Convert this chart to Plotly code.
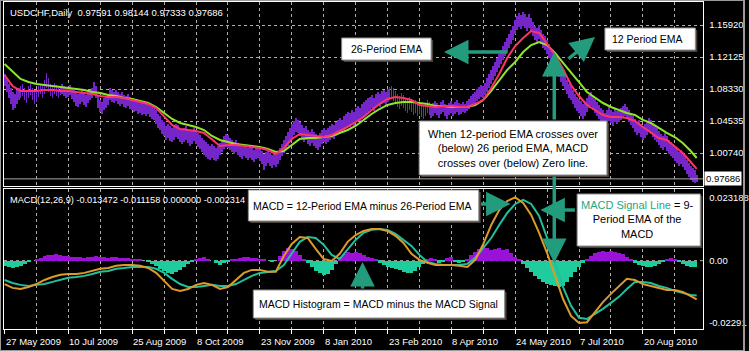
import plotly.graph_objects as go

W, H = 749, 351

# ---------------- data ----------------
bar_high = [
    1.1012,1.0965,1.0894,1.0846,1.0799,1.0775,1.0823,1.0846,
    1.0870,1.0894,1.0846,1.0823,1.0870,1.0894,1.0846,1.0799,
    1.0823,1.0870,1.0894,1.0870,1.0941,1.1024,1.0965,1.0894,
    1.0870,1.0906,1.0882,1.0846,1.0870,1.0894,1.0870,1.0846,
    1.0858,1.0882,1.0846,1.0823,1.0799,1.0775,1.0799,1.0823,
    1.0787,1.0763,1.0799,1.0823,1.0846,1.0917,1.0870,1.0751,
    1.0704,1.0680,1.0728,1.0751,1.0775,1.0846,1.0823,1.0799,
    1.0823,1.0799,1.0775,1.0799,1.0763,1.0751,1.0775,1.0740,
    1.0716,1.0692,1.0704,1.0680,1.0692,1.0668,1.0680,1.0657,
    1.0668,1.0645,1.0621,1.0609,1.0585,1.0538,1.0514,1.0467,
    1.0443,1.0396,1.0419,1.0396,1.0372,1.0396,1.0419,1.0408,
    1.0372,1.0348,1.0372,1.0396,1.0360,1.0336,1.0348,1.0372,
    1.0348,1.0313,1.0289,1.0253,1.0230,1.0206,1.0182,1.0158,
    1.0182,1.0158,1.0135,1.0158,1.0194,1.0230,1.0277,1.0301,
    1.0289,1.0253,1.0230,1.0206,1.0230,1.0194,1.0170,1.0147,
    1.0182,1.0158,1.0135,1.0158,1.0135,1.0111,1.0135,1.0158,
    1.0123,1.0099,1.0064,1.0087,1.0111,1.0075,1.0052,1.0075,
    1.0052,1.0087,1.0135,1.0182,1.0230,1.0277,1.0325,1.0372,
    1.0419,1.0455,1.0491,1.0467,1.0443,1.0408,1.0372,1.0396,
    1.0348,1.0325,1.0360,1.0325,1.0301,1.0277,1.0313,1.0348,
    1.0372,1.0348,1.0372,1.0396,1.0419,1.0408,1.0443,1.0467,
    1.0491,1.0467,1.0514,1.0538,1.0562,1.0550,1.0585,1.0562,
    1.0609,1.0633,1.0609,1.0657,1.0680,1.0704,1.0728,1.0740,
    1.0763,1.0728,1.0775,1.0799,1.0775,1.0811,1.0823,1.0799,
    1.0834,1.0858,1.0870,1.0846,1.0811,1.0775,1.0751,1.0787,
    1.0763,1.0728,1.0704,1.0740,1.0716,1.0680,1.0704,1.0668,
    1.0692,1.0657,1.0633,1.0668,1.0704,1.0680,1.0645,1.0668,
    1.0692,1.0668,1.0645,1.0680,1.0704,1.0657,1.0633,1.0668,
    1.0692,1.0657,1.0680,1.0704,1.0668,1.0657,1.0680,1.0657,
    1.0692,1.0716,1.0751,1.0775,1.0799,1.0834,1.0858,1.0882,
    1.0870,1.0906,1.0965,1.1012,1.1060,1.1107,1.1155,1.1202,
    1.1250,1.1297,1.1344,1.1392,1.1439,1.1487,1.1534,1.1582,
    1.1653,1.1700,1.1736,1.1712,1.1748,1.1724,1.1688,1.1724,
    1.1677,1.1629,1.1582,1.1558,1.1594,1.1534,1.1487,1.1463,
    1.1416,1.1368,1.1321,1.1273,1.1226,1.1178,1.1143,1.1084,
    1.1036,1.0989,1.0941,1.0894,1.0870,1.0823,1.0775,1.0740,
    1.0716,1.0692,1.0657,1.0680,1.0728,1.0763,1.0799,1.0751,
    1.0716,1.0680,1.0645,1.0609,1.0585,1.0550,1.0585,1.0621,
    1.0585,1.0562,1.0597,1.0574,1.0585,1.0609,1.0633,1.0657,
    1.0621,1.0585,1.0550,1.0514,1.0479,1.0443,1.0467,1.0419,
    1.0396,1.0419,1.0455,1.0491,1.0467,1.0431,1.0396,1.0372,
    1.0336,1.0301,1.0277,1.0313,1.0277,1.0230,1.0206,1.0182,
    1.0158,1.0123,1.0087,1.0111,1.0075,1.0040,0.9992,0.9957,
    0.9921,0.9898,0.9874,0.98144,
]
bar_low = [
    1.0870,1.0799,1.0728,1.0657,1.0585,1.0609,1.0657,1.0704,
    1.0728,1.0751,1.0704,1.0668,1.0728,1.0763,1.0704,1.0657,
    1.0680,1.0740,1.0775,1.0728,1.0775,1.0846,1.0799,1.0751,
    1.0728,1.0775,1.0751,1.0728,1.0763,1.0775,1.0751,1.0728,
    1.0740,1.0763,1.0716,1.0680,1.0633,1.0621,1.0657,1.0680,
    1.0645,1.0621,1.0668,1.0704,1.0728,1.0775,1.0728,1.0609,
    1.0562,1.0538,1.0585,1.0609,1.0645,1.0704,1.0680,1.0668,
    1.0692,1.0657,1.0633,1.0657,1.0621,1.0609,1.0633,1.0597,
    1.0585,1.0562,1.0574,1.0538,1.0550,1.0526,1.0538,1.0514,
    1.0538,1.0502,1.0479,1.0467,1.0419,1.0372,1.0348,1.0301,
    1.0277,1.0230,1.0253,1.0218,1.0206,1.0230,1.0265,1.0241,
    1.0206,1.0182,1.0206,1.0230,1.0194,1.0158,1.0182,1.0218,
    1.0182,1.0147,1.0123,1.0087,1.0052,1.0028,1.0004,0.9992,
    1.0016,0.9992,0.9981,1.0004,1.0052,1.0087,1.0123,1.0147,
    1.0135,1.0111,1.0087,1.0064,1.0087,1.0052,1.0028,1.0004,
    1.0040,1.0016,0.9992,1.0016,0.9992,0.9969,1.0004,1.0016,
    0.9981,0.9945,0.9874,0.9921,0.9957,0.9921,0.9898,0.9933,
    0.9909,0.9945,0.9992,1.0040,1.0075,1.0123,1.0158,1.0206,
    1.0253,1.0289,1.0325,1.0313,1.0277,1.0241,1.0206,1.0230,
    1.0182,1.0158,1.0194,1.0158,1.0135,1.0111,1.0147,1.0182,
    1.0206,1.0182,1.0206,1.0230,1.0253,1.0241,1.0277,1.0301,
    1.0325,1.0313,1.0348,1.0372,1.0396,1.0384,1.0419,1.0396,
    1.0443,1.0467,1.0455,1.0491,1.0514,1.0538,1.0562,1.0585,
    1.0609,1.0574,1.0621,1.0645,1.0621,1.0657,1.0668,1.0633,
    1.0680,1.0704,1.0716,1.0692,1.0657,1.0621,1.0597,1.0633,
    1.0609,1.0574,1.0550,1.0585,1.0562,1.0526,1.0550,1.0514,
    1.0538,1.0502,1.0479,1.0514,1.0550,1.0526,1.0491,1.0514,
    1.0550,1.0526,1.0491,1.0538,1.0562,1.0514,1.0479,1.0526,
    1.0550,1.0514,1.0538,1.0562,1.0526,1.0538,1.0562,1.0550,
    1.0574,1.0597,1.0621,1.0645,1.0657,1.0692,1.0716,1.0740,
    1.0728,1.0763,1.0799,1.0846,1.0894,1.0941,1.0989,1.1036,
    1.1084,1.1131,1.1178,1.1226,1.1273,1.1321,1.1368,1.1416,
    1.1487,1.1534,1.1570,1.1546,1.1582,1.1558,1.1522,1.1558,
    1.1510,1.1463,1.1416,1.1392,1.1427,1.1368,1.1321,1.1297,
    1.1250,1.1202,1.1155,1.1107,1.1060,1.1012,1.0977,1.0917,
    1.0870,1.0823,1.0775,1.0728,1.0704,1.0657,1.0609,1.0574,
    1.0550,1.0514,1.0479,1.0514,1.0562,1.0609,1.0633,1.0585,
    1.0550,1.0514,1.0479,1.0443,1.0419,1.0384,1.0419,1.0455,
    1.0431,1.0396,1.0443,1.0419,1.0443,1.0467,1.0491,1.0514,
    1.0479,1.0443,1.0408,1.0372,1.0325,1.0289,1.0313,1.0265,
    1.0230,1.0253,1.0289,1.0325,1.0301,1.0265,1.0230,1.0206,
    1.0170,1.0135,1.0111,1.0147,1.0099,1.0064,1.0040,1.0016,
    0.9981,0.9957,0.9921,0.9945,0.9909,0.9874,0.9826,0.9791,
    0.9755,0.9732,0.9720,0.97333,
]

# sample bars for the indicator lines
line_bars = list(range(0, 345, 4)) + [347]
ema_12 = [
    1.1000,1.0870,1.0811,1.0811,1.0811,1.0823,1.0823,1.0811,
    1.0811,1.0799,1.0787,1.0775,1.0751,1.0740,1.0740,1.0728,
    1.0704,1.0680,1.0657,1.0609,1.0514,1.0408,1.0360,1.0348,
    1.0336,1.0313,1.0230,1.0158,1.0170,1.0170,1.0158,1.0147,
    1.0135,1.0111,1.0064,1.0135,1.0241,1.0301,1.0289,1.0277,
    1.0265,1.0289,1.0336,1.0384,1.0443,1.0502,1.0585,1.0657,
    1.0716,1.0740,1.0728,1.0704,1.0645,1.0633,1.0621,1.0633,
    1.0633,1.0621,1.0621,1.0657,1.0704,1.0846,1.1012,1.1202,
    1.1344,1.1439,1.1522,1.1499,1.1368,1.1238,1.1072,1.0882,
    1.0751,1.0645,1.0585,1.0526,1.0502,1.0502,1.0491,1.0455,
    1.0384,1.0313,1.0253,1.0230,1.0158,1.0075,0.9969,
    0.9886,
]
ema_26 = [
    1.1131,1.1036,1.0953,1.0917,1.0894,1.0882,1.0870,1.0858,
    1.0846,1.0834,1.0823,1.0799,1.0787,1.0763,1.0751,1.0728,
    1.0716,1.0692,1.0668,1.0621,1.0550,1.0479,1.0431,1.0408,
    1.0384,1.0348,1.0277,1.0230,1.0206,1.0182,1.0170,1.0158,
    1.0147,1.0123,1.0087,1.0099,1.0170,1.0241,1.0253,1.0253,
    1.0265,1.0277,1.0313,1.0348,1.0396,1.0467,1.0538,1.0597,
    1.0645,1.0668,1.0680,1.0680,1.0668,1.0657,1.0633,1.0633,
    1.0621,1.0621,1.0621,1.0645,1.0704,1.0811,1.0929,1.1060,
    1.1155,1.1273,1.1356,1.1392,1.1356,1.1261,1.1143,1.1036,
    1.0917,1.0799,1.0728,1.0668,1.0621,1.0585,1.0550,1.0526,
    1.0467,1.0431,1.0372,1.0313,1.0265,1.0194,1.0099,
    1.0016,
]
macd_main = [
    -0.0086,-0.0100,-0.0104,-0.0097,-0.0086,-0.0071,-0.0060,-0.0052,
    -0.0049,-0.0049,-0.0045,-0.0038,-0.0030,-0.0027,-0.0019,-0.0016,
    -0.0016,-0.0019,-0.0027,-0.0045,-0.0074,-0.0104,-0.0111,-0.0104,
    -0.0089,-0.0082,-0.0089,-0.0104,-0.0097,-0.0071,-0.0045,-0.0034,
    -0.0034,-0.0041,-0.0041,0.0017,0.0061,0.0087,0.0083,0.0043,
    0.0006,-0.0001,0.0025,0.0069,0.0094,0.0109,0.0116,0.0116,
    0.0109,0.0091,0.0065,0.0025,0.0003,-0.0008,-0.0016,-0.0016,
    -0.0016,-0.0019,-0.0023,0.0003,0.0061,0.0131,0.0186,0.0219,
    0.0232,0.0212,0.0168,0.0102,0.0028,-0.0056,-0.0141,-0.0203,
    -0.0229,-0.0226,-0.0188,-0.0152,-0.0122,-0.0093,-0.0067,-0.0071,
    -0.0086,-0.0093,-0.0100,-0.0108,-0.0108,-0.0115,-0.0130,
    -0.0142,
]
macd_signal = [
    -0.0071,-0.0082,-0.0089,-0.0093,-0.0089,-0.0086,-0.0078,-0.0071,
    -0.0063,-0.0060,-0.0056,-0.0049,-0.0041,-0.0038,-0.0030,-0.0027,
    -0.0023,-0.0023,-0.0023,-0.0030,-0.0045,-0.0067,-0.0086,-0.0097,
    -0.0097,-0.0093,-0.0089,-0.0093,-0.0093,-0.0086,-0.0071,-0.0056,
    -0.0045,-0.0041,-0.0038,-0.0016,0.0028,0.0069,0.0087,0.0083,
    0.0058,0.0021,0.0006,0.0039,0.0076,0.0102,0.0113,0.0116,
    0.0113,0.0098,0.0076,0.0054,0.0021,-0.0005,-0.0012,-0.0016,
    -0.0016,-0.0016,-0.0012,0.0010,0.0047,0.0083,0.0131,0.0175,
    0.0208,0.0223,0.0208,0.0164,0.0083,-0.0008,-0.0097,-0.0166,
    -0.0210,-0.0214,-0.0196,-0.0177,-0.0155,-0.0133,-0.0104,-0.0078,
    -0.0078,-0.0082,-0.0093,-0.0100,-0.0111,-0.0119,-0.0126,
    -0.0128,
]
hist_bars = list(range(0, 347, 2))
macd_hist = [
    -0.0018,-0.0022,-0.0026,-0.0022,-0.0018,-0.0011,-0.0004,0.0,0.0004,0.0011,
    0.0018,0.0022,0.0022,0.0026,0.0022,0.0018,0.0018,0.0015,0.0015,0.0015,
    0.0011,0.0015,0.0015,0.0018,0.0015,0.0015,0.0011,0.0015,0.0015,0.0011,
    0.0011,0.0011,0.0007,0.0007,0.0004,0.0,-0.0004,-0.0011,-0.0018,-0.0029,
    -0.0037,-0.0044,-0.0048,-0.0040,-0.0033,-0.0022,-0.0011,-0.0004,0.0007,0.0011,
    0.0015,0.0007,0.0,-0.0007,-0.0015,-0.0007,-0.0004,0.0004,0.0007,0.0011,
    0.0015,0.0015,0.0011,0.0011,0.0007,0.0004,0.0,-0.0004,0.0,0.0018,
    0.0037,0.0048,0.0044,0.0037,0.0022,0.0007,-0.0007,-0.0022,-0.0037,-0.0044,
    -0.0051,-0.0048,-0.0033,-0.0011,0.0011,0.0026,0.0033,0.0029,0.0033,0.0029,
    0.0022,0.0015,0.0011,0.0004,-0.0007,-0.0015,-0.0022,-0.0026,-0.0029,-0.0033,
    -0.0040,-0.0044,-0.0044,-0.0037,-0.0022,-0.0011,0.0004,0.0011,0.0004,-0.0007,
    -0.0004,0.0011,0.0015,-0.0004,-0.0007,-0.0004,0.0007,0.0022,0.0033,0.0044,
    0.0051,0.0048,0.0040,0.0044,0.0048,0.0040,0.0044,0.0029,0.0015,0.0004,
    -0.0011,-0.0026,-0.0040,-0.0055,-0.0066,-0.0077,-0.0084,-0.0088,-0.0092,-0.0095,
    -0.0092,-0.0077,-0.0059,-0.0040,-0.0022,-0.0007,0.0004,0.0018,0.0029,0.0033,
    0.0037,0.0033,0.0037,0.0033,0.0029,0.0026,0.0015,0.0004,-0.0007,-0.0015,
    -0.0018,-0.0022,-0.0022,-0.0018,-0.0011,-0.0004,0.0007,0.0011,0.0007,-0.0004,
    -0.0011,-0.0018,-0.0022,-0.002314,
]

date_bars = [0, 32, 64, 96, 128, 160, 192, 224, 256, 288, 320]
date_labels = ["27 May 2009", "10 Jul 2009", "25 Aug 2009", "8 Oct 2009",
               "23 Nov 2009", "8 Jan 2010", "23 Feb 2010", "8 Apr 2010",
               "24 May 2010", "7 Jul 2010", "20 Aug 2010"]
grid_bars = list(range(0, 350, 16))
price_ticks = [1.15920, 1.12125, 1.08330, 1.04535, 1.00740, 0.96945]
price_tick_text = ["1.15920", "1.12125", "1.08330", "1.04535", "1.00740", ""]
macd_ticks = [0.023188, 0.0, -0.02291]
macd_tick_text = ["0.023188", "0.00", "-0.02291"]
last_price = 0.97686
price_header = "USDCHF,Daily  0.97591 0.98144 0.97333 0.97686"
macd_header = "MACD(12,26,9) -0.013472 -0.011158 0.000000 -0.002314"

# ---------------- styles ----------------
FONT = "Liberation Sans, Arial, sans-serif"
GRID = "#b4aca4"
PURPLE = "#7426c8"
RED = "#ff3366"
LIME = "#8ee62a"
ORANGE = "#dc9a2a"
TEAL = "#22bf9c"
HIST_POS = "#9a12d8"
HIST_NEG = "#1fcc9e"
ARROW = "#239b7d"


def px(x):
    return x / W


def py(y):
    return 1 - y / H


X0, X1 = px(4), px(708)
XR = [-0.3, 350.3]

fig = go.Figure()

# price bars
fig.add_trace(go.Bar(
    x=list(range(len(bar_high))),
    y=[h - l for h, l in zip(bar_high, bar_low)],
    base=bar_low, width=0.45,
    marker=dict(color=PURPLE, line=dict(width=0)),
    xaxis="x", yaxis="y", hoverinfo="skip"))
fig.add_trace(go.Scatter(x=line_bars, y=ema_26, mode="lines",
                         line=dict(color=LIME, width=2), xaxis="x", yaxis="y"))
fig.add_trace(go.Scatter(x=line_bars, y=ema_12, mode="lines",
                         line=dict(color=RED, width=2), xaxis="x", yaxis="y"))

# MACD panel
fig.add_trace(go.Bar(
    x=hist_bars, y=macd_hist, width=2,
    marker=dict(color=[HIST_POS if v >= 0 else HIST_NEG for v in macd_hist],
                line=dict(width=0)),
    xaxis="x2", yaxis="y2", hoverinfo="skip"))
fig.add_trace(go.Scatter(x=line_bars, y=macd_signal, mode="lines",
                         line=dict(color=TEAL, width=2), xaxis="x2", yaxis="y2"))
fig.add_trace(go.Scatter(x=line_bars, y=macd_main, mode="lines",
                         line=dict(color=ORANGE, width=2), xaxis="x2", yaxis="y2"))

axis_common = dict(showline=True, mirror=True, linecolor="white", linewidth=1,
                   zeroline=False, fixedrange=True)

fig.update_layout(
    width=W, height=H, margin=dict(l=0, r=0, t=0, b=0),
    paper_bgcolor="black", plot_bgcolor="black", showlegend=False,
    bargap=0,
    xaxis=dict(domain=[X0, X1], range=XR, anchor="y", tickvals=grid_bars,
               showticklabels=False, ticks="", showgrid=True, gridcolor=GRID,
               griddash="3px,3px", gridwidth=1, **axis_common),
    yaxis=dict(domain=[py(186), py(2)], range=[0.9684, 1.1866], anchor="x",
               side="right", tickvals=price_ticks, ticktext=price_tick_text,
               tickfont=dict(color="white", size=9.5, family=FONT), ticks="",
               ticklabelstandoff=3,
               showgrid=True, gridcolor=GRID, griddash="3px,3px", gridwidth=1,
               **axis_common),
    xaxis2=dict(domain=[X0, X1], range=XR, anchor="y2", tickvals=grid_bars,
                showticklabels=False, ticks="outside", ticklen=4,
                tickcolor="white", showgrid=True, gridcolor=GRID,
                griddash="3px,3px", gridwidth=1, **axis_common),
    yaxis2=dict(domain=[py(329), py(189)], range=[-0.0251, 0.0263], anchor="x2",
                side="right", tickvals=macd_ticks, ticktext=macd_tick_text,
                tickfont=dict(color="white", size=9.5, family=FONT), ticks="",
                ticklabelstandoff=3, showgrid=False, **axis_common),
)

shapes = []
# zero level in MACD window, bid line in price window
shapes.append(dict(type="line", xref="paper", yref="y2", x0=X0, x1=X1, y0=0, y1=0,
                   line=dict(color=GRID, width=1, dash="3px,3px"), layer="below"))
shapes.append(dict(type="line", xref="paper", yref="y", x0=X0, x1=X1,
                   y0=last_price, y1=last_price,
                   line=dict(color="#a8a8a8", width=1), layer="above"))
# outer window edge
shapes.append(dict(type="rect", xref="paper", yref="paper", x0=0, x1=1, y0=0, y1=1,
                   line=dict(color="#9a9a9a", width=2), layer="above"))

# callout boxes (x0, y0, x1, y1 in pixels)
boxes = [(344, 38, 434, 60), (609, 28, 700, 50), (422, 121, 611, 175),
         (250, 190, 482, 221), (581, 194, 705, 246), (255, 290, 508, 318)]
for (bx0, by0, bx1, by1) in boxes:
    shapes.append(dict(type="rect", xref="paper", yref="paper",
                       x0=px(bx0 + 2), x1=px(bx1 + 2), y0=py(by1 + 2), y1=py(by0 + 2),
                       fillcolor="#4a4038", line=dict(width=0), layer="above"))
    shapes.append(dict(type="rect", xref="paper", yref="paper",
                       x0=px(bx0), x1=px(bx1), y0=py(by1), y1=py(by0),
                       fillcolor="white", line=dict(color="#909090", width=1),
                       layer="above"))
fig.update_layout(shapes=shapes)

ann = []
# headers
ann.append(dict(x=px(8), y=py(13), xref="paper", yref="paper", xanchor="left",
                yanchor="middle", showarrow=False, text=price_header,
                font=dict(color="white", size=9.5, family=FONT)))
ann.append(dict(x=px(8), y=py(200), xref="paper", yref="paper", xanchor="left",
                yanchor="middle", showarrow=False, text=macd_header,
                font=dict(color="white", size=9.2, family=FONT)))
# current price label
ann.append(dict(x=px(709), y=last_price, xref="paper", yref="y", xanchor="left",
                yanchor="middle", showarrow=False, text="0.97686",
                bgcolor="white", borderpad=1,
                font=dict(color="black", size=9.5, family=FONT)))
# date labels
for b, lab in zip(date_bars, date_labels):
    ann.append(dict(x=b, y=py(341), xref="x2", yref="paper", xanchor="left",
                    yanchor="middle", showarrow=False, text=lab, xshift=-1,
                    font=dict(color="white", size=9.5, family=FONT)))

# callout texts
BOXFONT = dict(color="black", size=10.5, family=FONT)
texts = [
    (389, 49, "26-Period EMA"),
    (652, 39, "12 Period EMA"),
    (365, 206, "MACD = 12-Period EMA minus 26-Period EMA"),
    (381, 304, "MACD Histogram = MACD minus the MACD Signal"),
]
for tx, ty, t in texts:
    ann.append(dict(x=px(tx), y=py(ty), xref="paper", yref="paper",
                    xanchor="center", yanchor="middle", showarrow=False,
                    text=t, font=BOXFONT))
ann.append(dict(x=px(516), y=py(148), xref="paper", yref="paper",
                xanchor="center", yanchor="middle", showarrow=False, align="center",
                text="When 12-period EMA crosses over<br>(below) 26 period EMA, MACD<br>"
                     "crosses over (below) Zero line.",
                font=dict(color="black", size=11, family=FONT)))
ann.append(dict(x=px(642), y=py(220), xref="paper", yref="paper",
                xanchor="center", yanchor="middle", showarrow=False, align="center",
                text="<span style='color:#1aa886'>MACD Signal Line</span> = 9-<br>"
                     "Period EMA of the<br>MACD",
                font=dict(color="black", size=11, family=FONT)))

# arrows: (tail x, tail y, head x, head y) in pixels
arrows = [(512, 52, 447, 52), (571, 60, 599, 37), (558, 121, 558, 52),
          (558, 175, 558, 263), (483, 204, 514, 204), (580, 210, 544, 210),
          (365, 290, 365, 262)]
for (tx, ty, hx, hy) in arrows:
    ann.append(dict(x=px(hx), y=py(hy), xref="paper", yref="paper",
                    ax=tx - hx, ay=ty - hy, axref="pixel", ayref="pixel",
                    showarrow=True, arrowhead=2, arrowsize=1.4, arrowwidth=3.5,
                    arrowcolor=ARROW, text="", standoff=0))
fig.update_layout(annotations=ann)

fig.write_html("out.html")
